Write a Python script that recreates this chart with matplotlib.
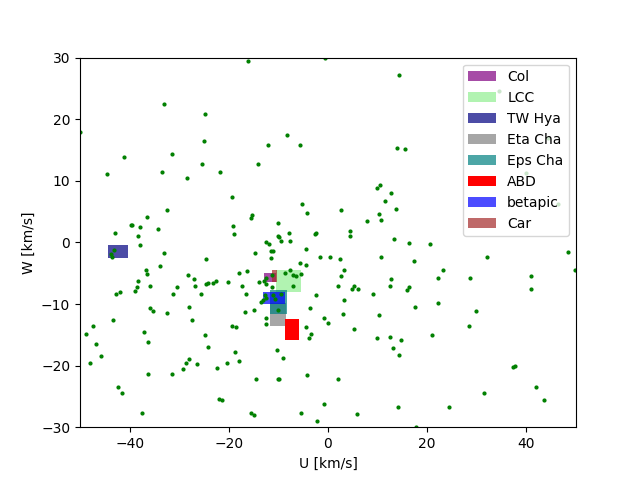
import matplotlib
matplotlib.use("Agg")
import matplotlib.pyplot as plt
from matplotlib.patches import Rectangle

U = [-16.1, -0.6, -33.0, -24.7, -50.0, -8.2, -24.9, -12.0, -5.6, -41.1, -31.4, -44.5, -33.4, -25.5,
     -28.4, -14.1, -21.7, -19.3, -5.2, -4.2, -32.4, -36.4, -39.7, -39.5, -38.0, -42.9, -34.2, -38.4,
     -38.0, -15.3, -15.5, -19.1, -19.0, -10.0, -7.8, -10.0, -9.8, -9.4, -7.6, -12.4, -11.8, -2.6, -2.4,
     14.4, 14.0, 15.6, 10.5, 9.9, 12.8, 11.4, 13.8, 2.7, 10.3, 10.7, 7.9, 4.5, 4.5, 13.4, 16.4, 20.6,
     34.5, 44.3, 40.0, 46.4,
     -43.1, -43.8, -43.5, -33.0, -24.5, -33.8, -36.6, -36.4, -38.4, -35.8, -38.6, -39.0, -42.7, -41.9,
     -30.4, -31.2, -28.2, -27.0, -26.8, -25.7, -24.5, -24.1, -23.1, -22.5, -20.1, -17.9, -16.3, -17.3,
     -16.5, -14.7, -11.4, -11.0, -11.4, -4.4, -1.55, 0.4, -5.6, -4.4, -7.6, -8.6, -7.0, -6.4, -5.4,
     -7.0, -11.2, -12.4, -13.9, -13.0, -12.6, -11.2, -2.4, -12.8, -12.6, -13.6, -13.2, -11.0, -10.6,
     -9.4, -10.0, -3.6, -14.9, -16.7, -12.6, -12.4, -0.9, 0.1, -4.4, -3.4, -3.8, -19.3, -18.5, -24.7,
     -24.1, -27.4, -28.0, -32.4, -35.8, -35.2, -43.3, -47.3, -48.7, -46.7, -45.7, -47.9, -37.0, -36.2,
     -36.2, -42.3, -41.5, -37.6, -31.4, -29.2, -28.6, -28.0, -26.4, -22.3, -20.3, -18.7, -17.9, -21.9,
     -21.3, -15.5, -14.9, -14.5, -10.2, -9.0, -10.0, -9.8, -4.2, -5.4, -2.2, -0.75,
     2.5, 10.7, 17.4, 32.1, 48.4, 49.8, 3.3, 2.7, 2.1, 4.9, 5.3, 6.1, 3.3, 3.1, 5.3, 9.1, 10.3, 12.8,
     12.4, 16.4, 16.0, 17.6, 23.2, 22.2, 22.2, 28.7, 29.9, 28.5, 21.0, 9.9, 12.4, 14.8, 13.2, 14.4,
     41.0, 41.0, 37.2, 37.8, 42.0, 43.6, 31.5, 24.3, 14.2, 5.9, 2.1, 17.8]
W = [29.45, 29.9, 22.4, 20.8, 17.9, 17.5, 16.4, 15.8, 15.8, 13.8, 14.3, 11.1, 11.4, 12.8,
     10.4, 12.8, 11.5, 7.3, 6.2, 4.7, 5.2, 4.1, 2.9, 2.8, 2.5, 1.6, 2.1, 1.0,
     -0.4, 4.4, 3.9, 2.6, 1.3, 3.1, 1.5, 1.0, 0.8, 0.3, 0.3, 0.0, -0.3, 1.3, 1.5,
     27.1, 15.4, 15.1, 9.3, 8.8, 8.1, 6.8, 5.4, 5.2, 4.6, 3.6, 3.4, 1.85, 1.0, 0.5, -0.15, -0.3,
     24.5, 16.9, 11.2, 6.3,
     -1.3, -1.9, -2.4, -1.8, -2.7, -3.9, -4.4, -5.2, -6.2, -7.1, -7.3, -7.9, -8.4, -8.1,
     -7.3, -8.3, -5.3, -6.0, -7.0, -8.3, -6.8, -6.6, -6.6, -6.2, -6.5, -4.9, -4.7, -7.0,
     -8.3, -1.8, -1.45, -1.45, -2.6, -1.0, -2.4, -2.4, -3.4, -3.7, -4.4, -4.9, -5.3, -5.5, -5.2,
     -7.0, -5.3, -5.7, -6.5, -6.3, -6.8, -7.3, -8.6, -8.6, -9.1, -9.7, -9.4, -8.6, -9.2,
     -8.4, -10.9, -10.7, -11.0, -11.3, -12.2, -13.3, -12.2, -13.1, -13.8, -14.8, -15.6, -13.5, -13.8, -15.1,
     -16.9, -12.6, -10.5, -11.5, -10.7, -11.2, -12.6, -13.5, -14.9, -16.5, -18.5, -19.6, -14.6, -16.1,
     -21.4, -23.4, -24.5, -27.7, -21.3, -20.6, -19.6, -19.0, -19.8, -20.4, -19.5, -17.8, -19.3, -25.5,
     -25.6, -27.7, -28.1, -22.2, -17.5, -18.8, -22.2, -22.1, -21.6, -27.7, -29.0, -26.3,
     -2.7, -2.3, -3.1, -2.3, -1.6, -4.5, -4.4, -5.5, -7.0, -7.5, -7.0, -7.5, -9.4, -11.7, -14.1, -8.4, -11.8, -6.0,
     -7.1, -7.3, -7.8, -10.5, -4.4, -5.8, -9.9, -5.7, -11.2, -13.5, -15.1, -15.6, -15.4, -15.9, -17.2, -18.3,
     -5.5, -7.5, -20.3, -20.0, -23.4, -25.6, -24.5, -26.8, -26.8, -27.9, -22.1, -30.0]

groups = ["Col", "LCC", "TW Hya", "Eta Cha", "Eps Cha", "ABD", "betapic", "Car"]
u_min = [-12.9, -10.4, -44.4, -11.6, -11.6, -8.7, -13.1, -11.3]
u_max = [-10.5, -5.4, -40.3, -8.5, -8.3, -5.8, -8.7, -10.2]
w_min = [-6.4, -8.0, -2.5, -13.5, -11.6, -15.9, -10.0, -6.4]
w_max = [-4.9, -4.5, -0.4, -9.9, -7.7, -12.4, -8.0, -4.5]
colors = ["purple", "lightgreen", "navy", "gray", "teal", "red", "blue", "brown"]
alphas = [0.7, 0.7, 0.7, 0.7, 0.7, 1.0, 0.7, 0.7]

fig, ax = plt.subplots(figsize=(6.4, 4.8), dpi=100)
ax.plot(U, W, 'g.', markersize=4)
for g, u0, u1, w0, w1, c, a in zip(groups, u_min, u_max, w_min, w_max, colors, alphas):
    ax.add_patch(Rectangle((u0, w0), u1 - u0, w1 - w0, color=c, alpha=a, label=g, lw=0))
ax.set_xlim(-50, 50)
ax.set_ylim(-30, 30)
ax.set_xlabel("U [km/s]")
ax.set_ylabel("W [km/s]")
ax.legend(loc="upper right")
fig.savefig("out.png", dpi=100)
